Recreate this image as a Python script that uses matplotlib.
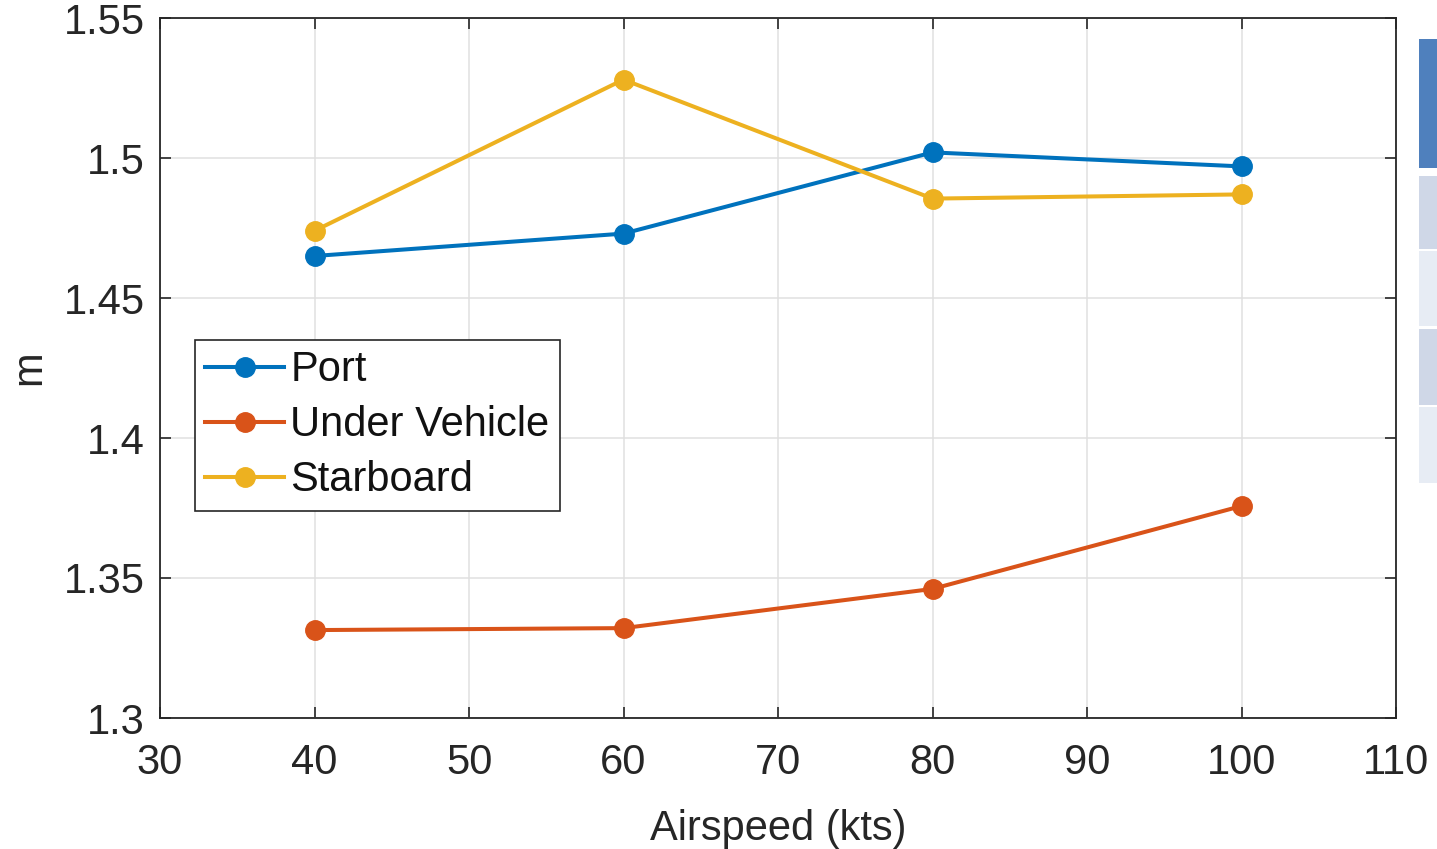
import matplotlib
matplotlib.use("Agg")
import matplotlib.pyplot as plt
from matplotlib.patches import Rectangle

plt.rcParams['font.family'] = ['Liberation Sans', 'DejaVu Sans']

airspeed = [40, 60, 80, 100]
port = [1.465, 1.473, 1.502, 1.497]
under_vehicle = [1.3314, 1.3321, 1.3461, 1.3757]
starboard = [1.474, 1.528, 1.4855, 1.487]

x_ticks = [30, 40, 50, 60, 70, 80, 90, 100, 110]
y_ticks = [1.3, 1.35, 1.4, 1.45, 1.5, 1.55]
y_ticklabels = ['1.3', '1.35', '1.4', '1.45', '1.5', '1.55']

series = [
    ('Port', port, '#0072BD'),
    ('Under Vehicle', under_vehicle, '#D95319'),
    ('Starboard', starboard, '#EDB120'),
]

W, H = 1437, 849
fig = plt.figure(figsize=(W / 100, H / 100), dpi=100)
ax = fig.add_axes([160 / W, 1 - 718 / H, (1396 - 160) / W, (718 - 18) / H])

for name, vals, col in series:
    ax.plot(airspeed, vals, '-o', color=col, lw=2.9, ms=14, label=name, zorder=3)

ax.set_xlim(30, 110)
ax.set_ylim(1.3, 1.55)
ax.set_xticks(x_ticks)
ax.set_yticks(y_ticks)
ax.set_yticklabels(y_ticklabels)
ax.grid(True, color='#e0e0e0', lw=1.1)
ax.set_axisbelow(True)
ax.tick_params(direction='in', length=8, width=1.2, color='#262626',
               labelsize=30, labelcolor='#262626', top=True, right=True)
ax.tick_params(axis='x', pad=18)
ax.tick_params(axis='y', pad=11)
for s in ax.spines.values():
    s.set_color('#262626')
    s.set_linewidth(1.3)

ax.set_xlabel('Airspeed (kts)', fontsize=30, color='#262626', labelpad=19)
ax.set_ylabel('m', fontsize=30, color='#262626', labelpad=10)

leg = ax.legend(loc='upper left', bbox_to_anchor=(0.028, 0.54), fontsize=30,
                frameon=True, fancybox=False, framealpha=1, edgecolor='#262626',
                handlelength=1.9, handletextpad=0.15, borderpad=0.25,
                labelspacing=0.36, borderaxespad=0)
leg.get_frame().set_linewidth(1.2)
for t in leg.get_texts():
    t.set_color('#111111')

# side panel strips at the right edge
strips = [(39, 168, '#4f80bd'), (176, 249, '#cfd7e7'), (251, 326, '#e7ecf4'),
          (329, 405, '#cfd7e7'), (407, 483, '#e7ecf4')]
for y0, y1, c in strips:
    fig.patches.append(Rectangle((1419 / W, 1 - y1 / H), (W - 1419) / W, (y1 - y0) / H,
                                 transform=fig.transFigure, facecolor=c,
                                 edgecolor='none'))

fig.savefig('out.png', dpi=100)
